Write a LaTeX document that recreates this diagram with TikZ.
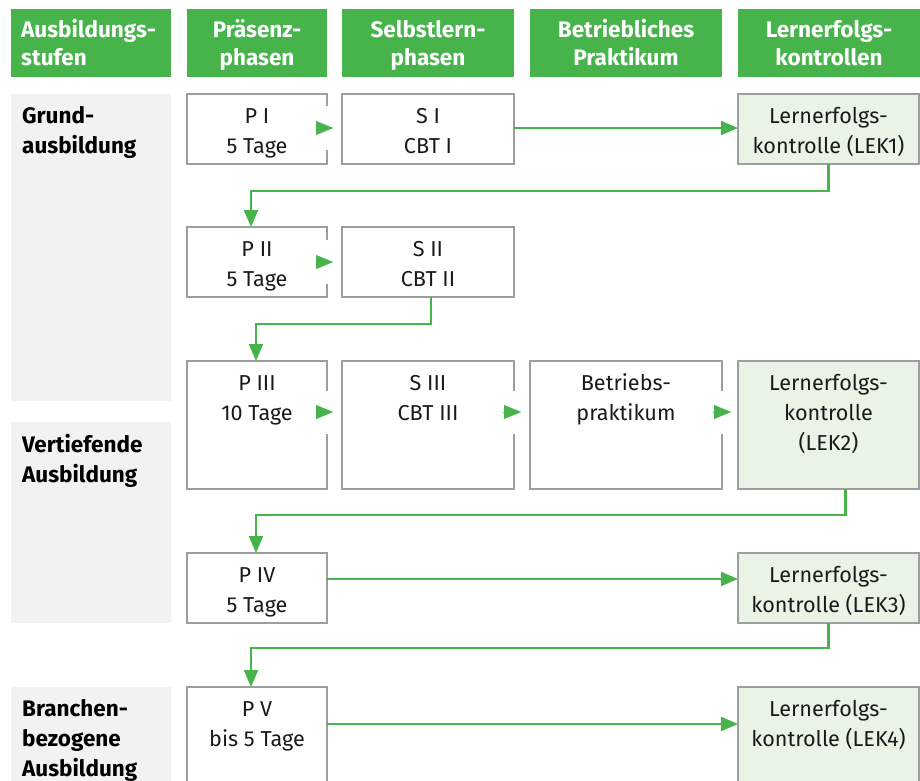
\documentclass[tikz,border=0pt]{standalone}
\usepackage{fontspec}
\setmainfont{Fira Sans}
\usetikzlibrary{arrows.meta,calc}
\definecolor{grn}{RGB}{70,180,75}
\definecolor{boxgray}{RGB}{158,158,158}
\definecolor{lekfill}{RGB}{233,243,230}
\definecolor{panel}{RGB}{242,242,242}
\definecolor{ink}{RGB}{26,26,26}
\begin{document}
\begin{tikzpicture}[x=1pt,y=-1pt,
  hdr/.style={fill=grn, draw=none, inner sep=0pt, outer sep=0pt, anchor=north west},
  hdrtxt/.style={anchor=base, align=center, text=white, inner sep=0pt, font=\fontsize{22.5}{28.5}\selectfont\bfseries},
  panelbox/.style={fill=panel, draw=none, inner sep=0pt, outer sep=0pt, anchor=north west},
  paneltxt/.style={anchor=base west, align=left, text=black, inner sep=0pt, font=\fontsize{22.5}{30}\selectfont\bfseries},
  stage/.style={draw=boxgray, line width=2pt, fill=white, inner sep=0pt, outer sep=0pt, anchor=north west},
  lek/.style={stage, fill=lekfill},
  txt/.style={anchor=base, align=center, text=ink, inner sep=0pt, font=\fontsize{21.6}{30}\selectfont},
  conn/.style={draw=grn, line width=2.2pt, -{Triangle[length=17pt,width=14pt]}},
  tipo/.style={draw=grn, fill=grn, line width=0.1pt, -{Triangle[length=17pt,width=14pt]}},
  gap/.style={draw=white, line width=4pt}
]
\clip (0,0) rectangle (920,780);
\fill[white] (0,0) rectangle (920,780);

% headers
\node[hdr, minimum width=160pt, minimum height=68pt] (h1) at (11,9) {};
\node[hdr, minimum width=140pt, minimum height=68pt] (h2) at (187,9) {};
\node[hdr, minimum width=172pt, minimum height=68pt] (h3) at (342,9) {};
\node[hdr, minimum width=192pt, minimum height=68pt] (h4) at (530,9) {};
\node[hdr, minimum width=182pt, minimum height=68pt] (h5) at (738,9) {};
\node[hdrtxt, anchor=base west, align=left] (ht1) at (21,65.5) {Ausbildungs-\\stufen};
\node[hdrtxt] (ht2) at ($(h2.north)+(0,56.5)$) {Präsenz-\\phasen};
\node[hdrtxt] (ht3) at ($(h3.north)+(0,56.5)$) {Selbstlern-\\phasen};
\node[hdrtxt] (ht4) at ($(h4.north)+(0,56.5)$) {Betriebliches\\Praktikum};
\node[hdrtxt] (ht5) at ($(h5.north)+(0,56.5)$) {Lernerfolgs-\\kontrollen};

% left panels
\node[panelbox, minimum width=160pt, minimum height=307pt] (g1) at (11,94) {};
\node[panelbox, minimum width=160pt, minimum height=201pt] (g2) at (11,422) {};
\node[panelbox, minimum width=160pt, minimum height=110pt] (g3) at (11,687) {};
\node[paneltxt] (gt1) at (22,153) {Grund-\\ausbildung};
\node[paneltxt] (gt2) at (22,482) {Vertiefende\\Ausbildung};
\node[paneltxt] (gt3) at (22,776) {Branchen-\\bezogene\\Ausbildung};

% stage boxes
\node[stage, minimum width=140pt, minimum height=70pt] (p1) at (187,94) {};
\node[stage, minimum width=172pt, minimum height=70pt] (s1) at (342,94) {};
\node[lek, minimum width=181pt, minimum height=70pt] (l1) at (738,94) {};
\node[stage, minimum width=140pt, minimum height=70pt] (p2) at (187,227) {};
\node[stage, minimum width=172pt, minimum height=70pt] (s2) at (342,227) {};
\node[stage, minimum width=140pt, minimum height=128pt] (p3) at (187,361) {};
\node[stage, minimum width=172pt, minimum height=128pt] (s3) at (342,361) {};
\node[stage, minimum width=192pt, minimum height=128pt] (b3) at (530,361) {};
\node[lek, minimum width=181pt, minimum height=128pt] (l2) at (738,361) {};
\node[stage, minimum width=140pt, minimum height=70pt] (p4) at (187,553) {};
\node[lek, minimum width=181pt, minimum height=70pt] (l3) at (738,553) {};
\node[stage, minimum width=140pt, minimum height=120pt] (p5) at (187,687) {};
\node[lek, minimum width=181pt, minimum height=120pt] (l4) at (738,687) {};

% texts (anchor = baseline of last line)
\node[txt] (tp1) at ($(p1.north)+(0,59)$) {P I\\5 Tage};
\node[txt] (ts1) at ($(s1.north)+(0,59)$) {S I\\CBT I};
\node[txt] (tl1) at ($(l1.north)+(0,59)$) {Lernerfolgs-\\kontrolle (LEK1)};
\node[txt] (tp2) at ($(p2.north)+(0,59)$) {P II\\5 Tage};
\node[txt] (ts2) at ($(s2.north)+(0,59)$) {S II\\CBT II};
\node[txt] (tp3) at ($(p3.north)+(0,59)$) {P III\\10 Tage};
\node[txt] (ts3) at ($(s3.north)+(0,59)$) {S III\\CBT III};
\node[txt] (tb3) at ($(b3.north)+(0,59)$) {Betriebs-\\praktikum};
\node[txt] (tl2) at ($(l2.north)+(0,89)$) {Lernerfolgs-\\kontrolle\\(LEK2)};
\node[txt] (tp4) at ($(p4.north)+(0,59)$) {P IV\\5 Tage};
\node[txt] (tl3) at ($(l3.north)+(0,59)$) {Lernerfolgs-\\kontrolle (LEK3)};
\node[txt] (tp5) at ($(p5.north)+(0,59)$) {P V\\bis 5 Tage};
\node[txt] (tl4) at ($(l4.north)+(0,59)$) {Lernerfolgs-\\kontrolle (LEK4)};

% short arrows between adjacent boxes
\draw[gap] ($(p1.north east)+(0,12)$) -- ($(p1.north east)+(0,56)$);
\draw[tipo] ($(p1.north east)+(-11,34)$) -- ($(s1.north west)+(-9,34)$);
\draw[gap] ($(p2.north east)+(0,13)$) -- ($(p2.north east)+(0,57)$);
\draw[tipo] ($(p2.north east)+(-11,35)$) -- ($(s2.north west)+(-9,35)$);
\draw[gap] ($(p3.north east)+(0,30)$) -- ($(p3.north east)+(0,73)$);
\draw[tipo] ($(p3.north east)+(-11,51)$) -- ($(s3.north west)+(-9,51)$);
\draw[gap] ($(s3.north east)+(0,30)$) -- ($(s3.north east)+(0,73)$);
\draw[tipo] ($(s3.north east)+(-11,51)$) -- ($(b3.north west)+(-9,51)$);
\draw[gap] ($(b3.north east)+(0,30)$) -- ($(b3.north east)+(0,73)$);
\draw[tipo] ($(b3.north east)+(-9,51)$) -- ($(l2.north west)+(-7,51)$);

% long arrows
\draw[conn] ($(s1.north east)+(0,34)$) -- ($(l1.north west)+(0,34)$);
\draw[conn] ($(p4.north east)+(0,26)$) -- ($(l3.north west)+(0,26)$);
\draw[conn] ($(p5.north east)+(0,37)$) -- ($(l4.north west)+(0,37)$);

% return connectors
\draw[conn] (l1.south) -- ++(0,27) -| ([xshift=-6pt]p2.north);
\draw[conn] ([xshift=3pt]s2.south) -- ++(0,27) -| ([xshift=-1pt]p3.north);
\draw[conn] ([xshift=17pt]l2.south) -- ++(0,26) -| ([xshift=-1pt]p4.north);
\draw[conn] (l3.south) -- ++(0,25) -| ([xshift=-6pt]p5.north);
\end{tikzpicture}
\end{document}
